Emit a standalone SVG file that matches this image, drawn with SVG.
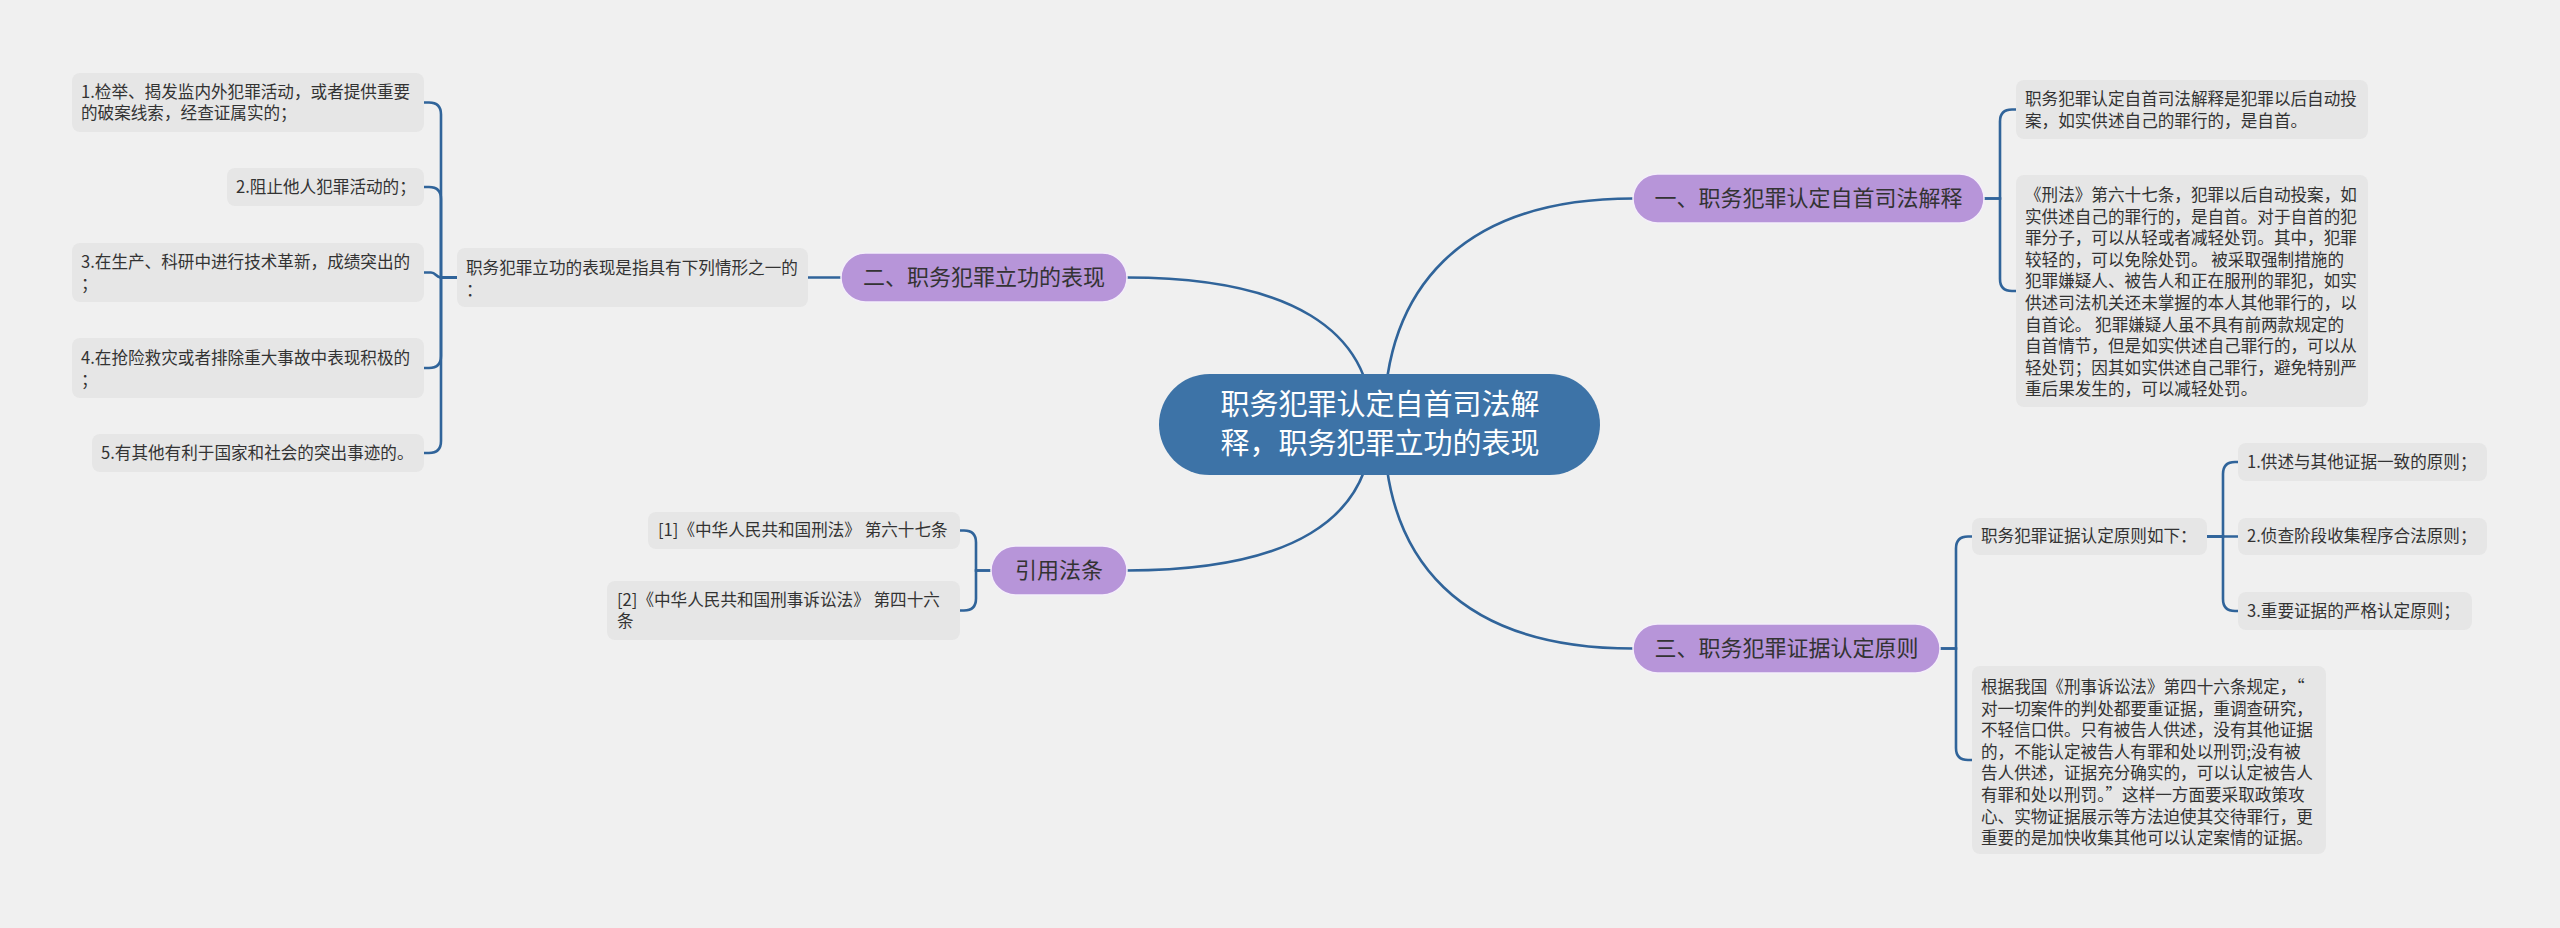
<svg xmlns="http://www.w3.org/2000/svg" width="2560" height="928" viewBox="0 0 2560 928">
<style>
.bg{fill:#f0f0f0}
.ln{fill:none;stroke:#30649a;stroke-width:2.6;stroke-linecap:round}
.root{fill:#3d73a7}
.rt{font-family:"Noto Sans CJK SC",sans-serif;font-size:29px;fill:#ffffff;text-anchor:middle}
.l1{fill:#b795d9;stroke:#f4eefa;stroke-width:1.5}
.t1{font-family:"Noto Sans CJK SC",sans-serif;font-size:22px;fill:#333333;text-anchor:middle}
.lf{fill:#e6e6e6}
.t2{font-family:"Noto Sans CJK SC",sans-serif;font-size:16.6px;fill:#333333}
</style>
<rect class="bg" x="0" y="0" width="2560" height="928"/>
<g id="connectors">
<path class="ln" d="M1384 424 C1384 290 1460 198.5 1633 198.5"/>
<path class="ln" d="M1372 424 C1372 330 1290 277.5 1127 277.5"/>
<path class="ln" d="M1372 424 C1372 520 1290 570.5 1127 570.5"/>
<path class="ln" d="M1384 424 C1384 560 1460 648.5 1633 648.5"/>
<path class="ln" d="M841 277.5 H808"/>
<path class="ln" d="M457 277.5 H441 V114.5 Q441 102.5 429 102.5 H424"/>
<path class="ln" d="M457 277.5 H441 V199 Q441 187 429 187 H424"/>
<path class="ln" d="M457 277.5 H441 C436 277.5 436 272.5 431 272.5 H424"/>
<path class="ln" d="M457 277.5 H441 V356 Q441 368 429 368 H424"/>
<path class="ln" d="M457 277.5 H441 V441 Q441 453 429 453 H424"/>
<path class="ln" d="M991 570.5 H976 V542.5 Q976 530.5 964 530.5 H960"/>
<path class="ln" d="M991 570.5 H976 V598.5 Q976 610.5 964 610.5 H960"/>
<path class="ln" d="M1984 198.5 H2000 V121.5 Q2000 109.5 2012 109.5 H2016"/>
<path class="ln" d="M1984 198.5 H2000 V279 Q2000 291 2012 291 H2016"/>
<path class="ln" d="M1940 648.5 H1956 V548.5 Q1956 536.5 1968 536.5 H1972"/>
<path class="ln" d="M1940 648.5 H1956 V748 Q1956 760 1968 760 H1972"/>
<path class="ln" d="M2207 536.5 H2223 V474 Q2223 462 2235 462 H2238"/>
<path class="ln" d="M2207 536.5 H2238"/>
<path class="ln" d="M2207 536.5 H2223 V599 Q2223 611 2235 611 H2238"/>
</g>
<g id="root">
<rect class="root" x="1159" y="374" width="441" height="101" rx="50.5"/>
<text class="rt" x="1380" y="415">职务犯罪认定自首司法解</text>
<text class="rt" x="1380" y="454">释，职务犯罪立功的表现</text>
</g>
<g id="n1">
<rect class="l1" x="1633" y="174" width="351" height="49" rx="24.5"/>
<text class="t1" x="1808.5" y="206">一、职务犯罪认定自首司法解释</text>
</g>
<g id="n2">
<rect class="l1" x="841" y="253" width="286" height="49" rx="24.5"/>
<text class="t1" x="984" y="285">二、职务犯罪立功的表现</text>
</g>
<g id="n3">
<rect class="l1" x="991" y="546" width="136" height="49" rx="24.5"/>
<text class="t1" x="1059" y="578">引用法条</text>
</g>
<g id="n4">
<rect class="l1" x="1633" y="624" width="307" height="49" rx="24.5"/>
<text class="t1" x="1786.5" y="656">三、职务犯罪证据认定原则</text>
</g>
<g id="n2a">
<rect class="lf" x="457" y="248" width="351" height="59" rx="8"/>
<text class="t2" x="466" y="274">职务犯罪立功的表现是指具有下列情形之一的</text>
<text class="t2" x="466" y="296">：</text>
</g>
<g id="n2a1">
<rect class="lf" x="72" y="73" width="352" height="59" rx="8"/>
<text class="t2" x="81" y="98">1.检举、揭发监内外犯罪活动，或者提供重要</text>
<text class="t2" x="81" y="119">的破案线索，经查证属实的；</text>
</g>
<g id="n2a2">
<rect class="lf" x="227" y="168" width="197" height="38" rx="8"/>
<text class="t2" x="236" y="193">2.阻止他人犯罪活动的；</text>
</g>
<g id="n2a3">
<rect class="lf" x="72" y="243" width="352" height="59" rx="8"/>
<text class="t2" x="81" y="268">3.在生产、科研中进行技术革新，成绩突出的</text>
<text class="t2" x="81" y="290">；</text>
</g>
<g id="n2a4">
<rect class="lf" x="72" y="338" width="352" height="60" rx="8"/>
<text class="t2" x="81" y="364">4.在抢险救灾或者排除重大事故中表现积极的</text>
<text class="t2" x="81" y="386">；</text>
</g>
<g id="n2a5">
<rect class="lf" x="92" y="434" width="332" height="38" rx="8"/>
<text class="t2" x="101" y="459">5.有其他有利于国家和社会的突出事迹的。</text>
</g>
<g id="n3a">
<rect class="lf" x="648" y="512" width="312" height="37" rx="8"/>
<text class="t2" x="658" y="536">[1]《中华人民共和国刑法》 第六十七条</text>
</g>
<g id="n3b">
<rect class="lf" x="607" y="581" width="353" height="59" rx="8"/>
<text class="t2" x="617" y="606">[2]《中华人民共和国刑事诉讼法》 第四十六</text>
<text class="t2" x="617" y="627">条</text>
</g>
<g id="n1a">
<rect class="lf" x="2016" y="80" width="352" height="59" rx="8"/>
<text class="t2" x="2025" y="105">职务犯罪认定自首司法解释是犯罪以后自动投</text>
<text class="t2" x="2025" y="127">案，如实供述自己的罪行的，是自首。</text>
</g>
<g id="n1b">
<rect class="lf" x="2016" y="175" width="352" height="232" rx="8"/>
<text class="t2" x="2025" y="201">《刑法》第六十七条，犯罪以后自动投案，如</text>
<text class="t2" x="2025" y="222.6">实供述自己的罪行的，是自首。对于自首的犯</text>
<text class="t2" x="2025" y="244.2">罪分子，可以从轻或者减轻处罚。其中，犯罪</text>
<text class="t2" x="2025" y="265.8">较轻的，可以免除处罚。 被采取强制措施的</text>
<text class="t2" x="2025" y="287.4">犯罪嫌疑人、被告人和正在服刑的罪犯，如实</text>
<text class="t2" x="2025" y="309">供述司法机关还未掌握的本人其他罪行的，以</text>
<text class="t2" x="2025" y="330.6">自首论。 犯罪嫌疑人虽不具有前两款规定的</text>
<text class="t2" x="2025" y="352.2">自首情节，但是如实供述自己罪行的，可以从</text>
<text class="t2" x="2025" y="373.8">轻处罚；因其如实供述自己罪行，避免特别严</text>
<text class="t2" x="2025" y="395.4">重后果发生的，可以减轻处罚。</text>
</g>
<g id="n4a">
<rect class="lf" x="1972" y="518" width="235" height="37" rx="8"/>
<text class="t2" x="1981" y="542">职务犯罪证据认定原则如下：</text>
</g>
<g id="n4a1">
<rect class="lf" x="2238" y="443" width="249" height="38" rx="8"/>
<text class="t2" x="2247" y="468">1.供述与其他证据一致的原则；</text>
</g>
<g id="n4a2">
<rect class="lf" x="2238" y="518" width="249" height="37" rx="8"/>
<text class="t2" x="2247" y="542">2.侦查阶段收集程序合法原则；</text>
</g>
<g id="n4a3">
<rect class="lf" x="2238" y="592" width="234" height="38" rx="8"/>
<text class="t2" x="2247" y="617">3.重要证据的严格认定原则；</text>
</g>
<g id="n4b">
<rect class="lf" x="1972" y="666" width="354" height="188" rx="8"/>
<text class="t2" x="1981" y="693">根据我国《刑事诉讼法》第四十六条规定，“</text>
<text class="t2" x="1981" y="714.6">对一切案件的判处都要重证据，重调查研究，</text>
<text class="t2" x="1981" y="736.2">不轻信口供。只有被告人供述，没有其他证据</text>
<text class="t2" x="1981" y="757.8">的，不能认定被告人有罪和处以刑罚;没有被</text>
<text class="t2" x="1981" y="779.4">告人供述，证据充分确实的，可以认定被告人</text>
<text class="t2" x="1981" y="801">有罪和处以刑罚。”这样一方面要采取政策攻</text>
<text class="t2" x="1981" y="822.6">心、实物证据展示等方法迫使其交待罪行，更</text>
<text class="t2" x="1981" y="844.2">重要的是加快收集其他可以认定案情的证据。</text>
</g>
</svg>
